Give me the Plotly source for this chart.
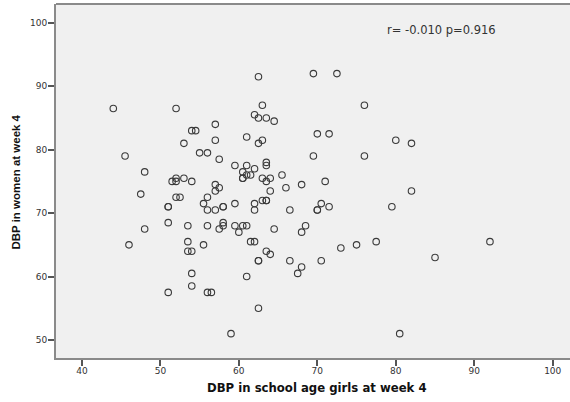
import plotly.graph_objects as go

# DBP in school age girls at week 4
girls_dbp = [
    44.0, 45.5, 46.0, 47.5, 48.0, 48.0, 51.0, 51.0, 51.0, 51.0, 51.5, 52.0, 52.0, 52.0, 52.0,
    52.5, 53.0, 53.0, 53.5, 53.5, 53.5, 54.0, 54.0, 54.0, 54.5, 54.0, 54.0, 55.0, 55.5, 55.5,
    56.0, 56.0, 56.0, 56.0, 56.0, 56.5, 57.0, 57.0, 57.0, 57.0, 57.0, 57.5, 57.5, 57.5, 58.0,
    58.0, 58.0, 58.0, 59.0, 59.5, 59.5, 59.5, 60.0, 60.5, 60.5, 60.5, 60.5, 61.0, 61.0, 61.0,
    61.0, 61.0, 61.5, 61.5, 62.0, 62.0, 62.0, 62.0, 62.0, 62.5, 62.5, 62.5, 62.5, 62.5, 62.5,
    63.0, 63.0, 63.0, 63.0, 63.5, 63.5, 63.5, 63.5, 63.5, 63.5, 63.5, 64.0, 64.0, 64.0, 64.5,
    64.5, 65.5, 66.0, 66.5, 66.5, 67.5, 68.0, 68.0, 68.0, 68.5, 69.5, 69.5, 70.0, 70.0, 70.0,
    70.5, 70.5, 71.0, 71.5, 71.5, 72.5, 73.0, 75.0, 76.0, 76.0, 77.5, 79.5, 80.0, 80.5, 82.0,
    82.0, 85.0, 92.0,
]
# DBP in women at week 4
women_dbp = [
    86.5, 79.0, 65.0, 73.0, 76.5, 67.5, 71.0, 71.0, 68.5, 57.5, 75.0, 86.5, 75.5, 75.0, 72.5,
    72.5, 81.0, 75.5, 68.0, 65.5, 64.0, 64.0, 75.0, 83.0, 83.0, 60.5, 58.5, 79.5, 71.5, 65.0,
    79.5, 72.5, 70.5, 68.0, 57.5, 57.5, 84.0, 81.5, 74.5, 73.5, 70.5, 78.5, 74.0, 67.5, 71.0,
    71.0, 68.5, 68.0, 51.0, 77.5, 71.5, 68.0, 67.0, 76.5, 75.5, 75.5, 68.0, 77.5, 76.0, 82.0,
    68.0, 60.0, 76.0, 65.5, 65.5, 85.5, 77.0, 71.5, 70.5, 91.5, 85.0, 81.0, 62.5, 62.5, 55.0,
    87.0, 81.5, 75.5, 72.0, 72.0, 72.0, 85.0, 78.0, 77.5, 75.0, 64.0, 75.5, 73.5, 63.5, 84.5,
    67.5, 76.0, 74.0, 70.5, 62.5, 60.5, 74.5, 67.0, 61.5, 68.0, 92.0, 79.0, 82.5, 70.5, 70.5,
    71.5, 62.5, 75.0, 82.5, 71.0, 92.0, 64.5, 65.0, 87.0, 79.0, 65.5, 71.0, 81.5, 51.0, 81.0,
    73.5, 63.0, 65.5,
]

x_ticks = [40, 50, 60, 70, 80, 90, 100]
y_ticks = [50, 60, 70, 80, 90, 100]
stats_text = "r= -0.010 p=0.916"
x_title = "DBP in school age girls at week 4"
y_title = "DBP in women at week 4"

fig = go.Figure()
fig.add_trace(go.Scatter(
    x=girls_dbp, y=women_dbp, mode="markers",
    marker=dict(symbol="circle-open", size=6.5, color="#3a3a3a", line=dict(width=1.1, color="#3a3a3a")),
    showlegend=False, hoverinfo="x+y",
))

axis_common = dict(
    showgrid=False, zeroline=False, showline=True, linecolor="#8a8a8a", linewidth=2,
    ticks="outside", ticklen=6, tickwidth=1.5, tickcolor="#555555",
    tickfont=dict(family="DejaVu Sans", size=9, color="#333333"),
)

fig.update_layout(
    width=570, height=402,
    margin=dict(l=56, r=0, t=4, b=44),
    paper_bgcolor="white", plot_bgcolor="#f0f0f0",
    xaxis=dict(range=[36.7, 102.2], tickvals=x_ticks, ticklabelstandoff=-3, **axis_common),
    yaxis=dict(range=[47.16, 102.97], tickvals=y_ticks, ticklabelstandoff=-1, **axis_common),
    shapes=[dict(type="line", xref="paper", yref="paper", x0=0, x1=1, y0=1, y1=1,
                 line=dict(color="#8a8a8a", width=2))],
    annotations=[
        dict(text=stats_text, x=78.6, y=98.8, xref="x", yref="y", xanchor="left", yanchor="middle",
             showarrow=False, font=dict(family="DejaVu Sans", size=11.5, color="#333333")),
        dict(text="<b>" + x_title + "</b>", x=70, y=-0.085, xref="x", yref="paper",
             xanchor="center", yanchor="middle", showarrow=False,
             font=dict(family="DejaVu Sans", size=11.7, color="#111111")),
        dict(text="<b>" + y_title + "</b>", x=-0.078, y=0.498, xref="paper", yref="paper",
             xanchor="center", yanchor="middle", showarrow=False, textangle=-90,
             font=dict(family="Liberation Sans", size=11.5, color="#111111")),
    ],
)

fig.write_html("out.html")
